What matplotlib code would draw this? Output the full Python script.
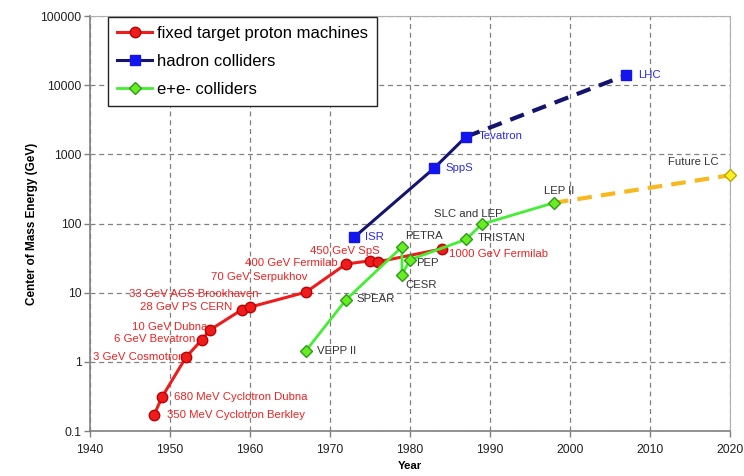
"""
Livingston-style plot: centre-of-mass energy reached by accelerators vs. year.
"""

import matplotlib.pyplot as plt
from matplotlib.ticker import FixedLocator, FuncFormatter, NullLocator

plt.rcParams["font.family"] = ["Liberation Sans", "DejaVu Sans"]

# ---------------------------------------------------------------------------
# data (year, centre-of-mass energy in GeV)
# ---------------------------------------------------------------------------

ft_years = [1948, 1949, 1952, 1954, 1955, 1959, 1960, 1967, 1972, 1975, 1976, 1984]
ft_energy = [0.17, 0.31, 1.17, 2.1, 2.9, 5.7, 6.2, 10.2, 26, 29, 28, 43]
ft_labels = [
    "350 MeV Cyclotron Berkley", "680 MeV Cyclotron Dubna", "3 GeV Cosmotron",
    "6 GeV Bevatron", "10 GeV Dubna", "28 GeV PS CERN", "33 GeV AGS Brookhaven",
    "70 GeV Serpukhov", "400 GeV Fermilab", "450 GeV SpS", "", "1000 GeV Fermilab",
]

hc_years = [1973, 1983, 1987]
hc_energy = [63, 630, 1800]
hc_labels = ["ISR", "SppS", "Tevatron"]
lhc_year, lhc_energy, lhc_label = 2007, 14000, "LHC"

ee_years = [1967, 1972, 1979, 1979, 1980, 1987, 1989, 1998]
ee_energy = [1.45, 7.9, 46, 18, 30, 59, 98, 200]
ee_labels = ["VEPP II", "SPEAR", "PETRA", "CESR", "PEP", "TRISTAN", "SLC and LEP", "LEP II"]
lc_year, lc_energy, lc_label = 2020, 500, "Future LC"

# label offsets in pixels (dx, dy) and alignment
ft_offsets = [(13, 0, "left"), (12, 0, "left"), (-2, 0, "right"), (-7, 1, "right"),
              (-3, 3, "right"), (-10, 3, "right"), (9, 13, "right"), (2, 15, "right"),
              (-8, 1, "right"), (10, 10, "right"), (0, 0, "left"), (7, -5, "left")]
hc_offsets = [(11, 0), (12, 0), (13, 1)]
ee_offsets = [(11, 0, "left"), (11, 1, "left"), (3, 11, "left"), (3, -10, "left"),
              (6, -3, "left"), (12, 1, "left"), (-48, 10, "left"), (-10, 12, "left")]

RED, RED_EDGE = "#ee1c1c", "#c00000"
NAVY, BLUE = "#14146e", "#1414ee"
GREEN, GREEN_FACE, GREEN_EDGE = "#44ee33", "#66ee22", "#2f9a1a"
ORANGE = "#f8b820"
TXT_RED, TXT_BLUE, TXT_DARK = "#ee2222", "#2a2ae6", "#333333"

PX = 72 / 100  # pixels -> points


def label(ax, x, y, text, dx, dy, ha, color):
    ax.annotate(text, xy=(x, y), xytext=(dx * PX, dy * PX), textcoords="offset points",
                ha=ha, va="center", fontsize=8.2, color=color)


fig = plt.figure(figsize=(7.44, 4.76), dpi=100)
ax = fig.add_axes([0.121, 0.0945, 0.86, 0.8715])

# future extrapolations (dashed)
ax.plot([hc_years[-1], lhc_year], [hc_energy[-1], lhc_energy], color=NAVY, lw=3,
        dashes=(3.5, 2.2), zorder=3)
ax.plot([ee_years[-1], lc_year], [ee_energy[-1], lc_energy], color=ORANGE, lw=3,
        dashes=(3.5, 2.2), zorder=3)

ax.plot(ft_years, ft_energy, color=RED, lw=2.2, marker="o", ms=7.5,
        mfc=RED, mec=RED_EDGE, label="fixed target proton machines", zorder=4)
ax.plot(hc_years, hc_energy, color=NAVY, lw=2.2, marker="s", ms=7,
        mfc=BLUE, mec=BLUE, label="hadron colliders", zorder=4)
ax.plot(ee_years, ee_energy, color=GREEN, lw=2, marker="D", ms=6.5,
        mfc=GREEN_FACE, mec=GREEN_EDGE, label="e+e- colliders", zorder=4)
ax.plot([lhc_year], [lhc_energy], ls="none", marker="s", ms=7, mfc=BLUE, mec=BLUE, zorder=5)
ax.plot([lc_year], [lc_energy], ls="none", marker="D", ms=6.5, mfc="#ffee22",
        mec="#b8a800", zorder=5, clip_on=False)

for x, y, t, (dx, dy, ha) in zip(ft_years, ft_energy, ft_labels, ft_offsets):
    if t:
        label(ax, x, y, t, dx, dy, ha, TXT_RED)
for x, y, t, (dx, dy) in zip(hc_years, hc_energy, hc_labels, hc_offsets):
    label(ax, x, y, t, dx, dy, "left", TXT_BLUE)
label(ax, lhc_year, lhc_energy, lhc_label, 12, 0, "left", TXT_BLUE)
for x, y, t, (dx, dy, ha) in zip(ee_years, ee_energy, ee_labels, ee_offsets):
    label(ax, x, y, t, dx, dy, ha, TXT_DARK)
label(ax, lc_year, lc_energy, lc_label, -11, 13, "right", TXT_DARK)

# axes
ax.set_yscale("log")
ax.set_xlim(1940, 2020)
ax.set_ylim(0.1, 100000)
ax.xaxis.set_major_locator(FixedLocator(range(1940, 2021, 10)))
ax.yaxis.set_major_locator(FixedLocator([0.1, 1, 10, 100, 1000, 10000, 100000]))
ax.yaxis.set_minor_locator(NullLocator())
ax.yaxis.set_major_formatter(FuncFormatter(lambda v, _: f"{v:g}"))
ax.tick_params(axis="both", labelsize=8.7, color="#808080", length=4, width=1,
               labelcolor="#222222")
ax.tick_params(axis="y", pad=2)
ax.tick_params(axis="x", pad=5)
ax.grid(True, color="#808080", lw=0.9, dashes=(4, 3))
for side in ("left", "bottom"):
    ax.spines[side].set_color("#808080")
    ax.spines[side].set_linewidth(1.2)
for side in ("top", "right"):
    ax.spines[side].set_color("#b0b0b0")

ax.set_xlabel("Year", fontsize=8.2, fontweight="bold", labelpad=4)
ax.set_ylabel("Center of Mass Energy (GeV)", fontsize=8.5, fontweight="bold", labelpad=2)

leg = ax.legend(loc="upper left", bbox_to_anchor=(0.028, 0.998), borderaxespad=0,
                fontsize=12, handlelength=2.1, labelspacing=0.78, fancybox=False,
                framealpha=1, edgecolor="#222222", borderpad=0.55, handletextpad=0.3)
leg.get_frame().set_linewidth(1)

fig.savefig("out.png", dpi=100)
